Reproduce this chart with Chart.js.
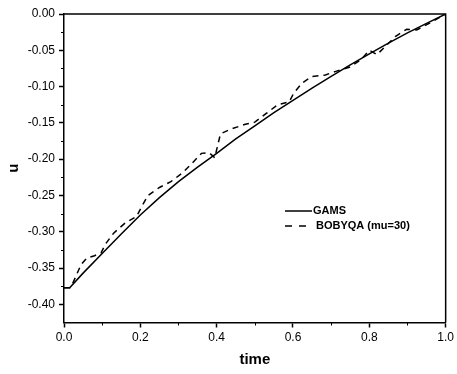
<!DOCTYPE html>
<html><head><meta charset="utf-8">
<script src="https://cdn.jsdelivr.net/npm/chart.js@4/dist/chart.umd.min.js"></script>
<style>html,body{margin:0;padding:0;background:#fff}</style>
</head><body><canvas id="c" width="457" height="374"></canvas>
<script>
const gamsT = [0, 0.015, 0.05, 0.1, 0.15, 0.2, 0.25, 0.3, 0.35, 0.4, 0.45, 0.5, 0.55, 0.6, 0.65, 0.7, 0.75, 0.8, 0.85, 0.9, 0.95, 1.0];
const gamsU = [-0.377, -0.377, -0.357, -0.330, -0.303, -0.277, -0.253, -0.231, -0.211, -0.192, -0.172, -0.154, -0.136, -0.119, -0.102, -0.086, -0.070, -0.055, -0.040, -0.026, -0.013, 0];
const bobT = [0, 0.015, 0.022, 0.045, 0.06, 0.08, 0.097, 0.11, 0.13, 0.16, 0.19, 0.205, 0.22, 0.25, 0.28, 0.31, 0.335, 0.36, 0.38, 0.395, 0.41, 0.44, 0.475, 0.50, 0.53, 0.56, 0.59, 0.602, 0.624, 0.65, 0.685, 0.712, 0.75, 0.78, 0.80, 0.82, 0.845, 0.868, 0.898, 0.924, 0.96, 1.0];
const bobU = [-0.377, -0.377, -0.372, -0.345, -0.336, -0.333, -0.329, -0.316, -0.302, -0.288, -0.279, -0.264, -0.250, -0.239, -0.231, -0.219, -0.206, -0.192, -0.191, -0.198, -0.165, -0.158, -0.152, -0.149, -0.137, -0.125, -0.121, -0.109, -0.095, -0.086, -0.084, -0.079, -0.073, -0.062, -0.050, -0.056, -0.043, -0.031, -0.021, -0.022, -0.012, 0];
const seriesNames = ['GAMS', 'BOBYQA (mu=30)'];
const xTicks = [0, 0.2, 0.4, 0.6, 0.8, 1.0];
const xMinor = [0.1, 0.3, 0.5, 0.7, 0.9];
const yTicks = [-0.40, -0.35, -0.30, -0.25, -0.20, -0.15, -0.10, -0.05, 0.00];
const yMinor = [-0.375, -0.325, -0.275, -0.225, -0.175, -0.125, -0.075, -0.025];

Chart.defaults.font.family = "'Liberation Sans', Arial, sans-serif";
Chart.defaults.color = '#000';

const frameAndMinor = {
  id: 'frameAndMinor',
  afterDraw(chart) {
    const ctx = chart.ctx, a = chart.chartArea;
    const xs = chart.scales.x, ys = chart.scales.y;
    ctx.save();
    ctx.strokeStyle = '#000';
    ctx.lineWidth = 1.5;
    ctx.beginPath();
    ctx.moveTo(a.left, a.top); ctx.lineTo(a.right, a.top); ctx.lineTo(a.right, a.bottom);
    ctx.stroke();
    ctx.lineWidth = 1;
    ctx.beginPath();
    xMinor.forEach(v => { const p = Math.round(xs.getPixelForValue(v)) + 0.5; ctx.moveTo(p, a.bottom); ctx.lineTo(p, a.bottom + 3); });
    yMinor.forEach(v => { const p = Math.round(ys.getPixelForValue(v)) + 0.5; ctx.moveTo(a.left, p); ctx.lineTo(a.left - 3, p); });
    ctx.stroke();
    // legend
    const lx0 = 285, lx1 = 312, ly0 = 211, dy = 15;
    chart.data.datasets.forEach((ds, i) => {
      const y = ly0 + i * dy;
      ctx.lineWidth = 1.5;
      ctx.setLineDash(ds.borderDash && ds.borderDash.length ? [7, 7] : []);
      ctx.beginPath(); ctx.moveTo(lx0, y); ctx.lineTo(lx1, y); ctx.stroke();
      ctx.setLineDash([]);
      ctx.fillStyle = '#000';
      ctx.font = "bold 11px 'Liberation Sans', Arial, sans-serif";
      ctx.textBaseline = 'middle';
      ctx.fillText(ds.label, i === 0 ? lx1 + 1 : lx1 + 4, y);
    });
    ctx.restore();
  }
};

new Chart(document.getElementById('c'), {
  type: 'line',
  data: {
    datasets: [
      { label: seriesNames[0], data: gamsT.map((t, i) => ({x: t, y: gamsU[i]})), borderColor: '#000', borderWidth: 1.5, pointRadius: 0, tension: 0, fill: false },
      { label: seriesNames[1], data: bobT.map((t, i) => ({x: t, y: bobU[i]})), borderColor: '#000', borderWidth: 1.5, borderDash: [6, 5], pointRadius: 0, tension: 0, fill: false }
    ]
  },
  options: {
    responsive: false, animation: false, devicePixelRatio: 1,
    layout: { padding: { top: 14, right: 10, left: 0, bottom: 0 } },
    plugins: { legend: { display: false }, tooltip: { enabled: false } },
    scales: {
      x: {
        type: 'linear', min: 0, max: 1, position: 'bottom',
        afterBuildTicks: s => { s.ticks = xTicks.map(v => ({ value: v })); },
        afterFit: s => { s.height = 51.5; },
        ticks: { callback: v => Number(v).toFixed(1), font: { size: 12 }, color: '#000', padding: 3, maxRotation: 0, autoSkip: false },
        grid: { display: true, drawOnChartArea: false, drawTicks: true, tickLength: 5, tickColor: '#000', tickWidth: 1.5 },
        border: { display: true, color: '#000', width: 1.5 },
        title: { display: true, text: 'time', font: { size: 15, weight: 'bold' }, color: '#000', padding: { top: 4, bottom: 5 } }
      },
      y: {
        type: 'linear', min: -0.425, max: 0,
        afterBuildTicks: s => { s.ticks = yTicks.map(v => ({ value: v })); },
        afterFit: s => { s.width = 64; },
        ticks: { callback: v => Number(v).toFixed(2), font: { size: 12 }, color: '#000', padding: 4, autoSkip: false },
        grid: { display: true, drawOnChartArea: false, drawTicks: true, tickLength: 5, tickColor: '#000', tickWidth: 1.5 },
        border: { display: true, color: '#000', width: 1.5 },
        title: { display: true, text: 'u', font: { size: 15, weight: 'bold' }, color: '#000', padding: { top: 5, bottom: 0 } }
      }
    }
  },
  plugins: [frameAndMinor]
});
</script></body></html>
